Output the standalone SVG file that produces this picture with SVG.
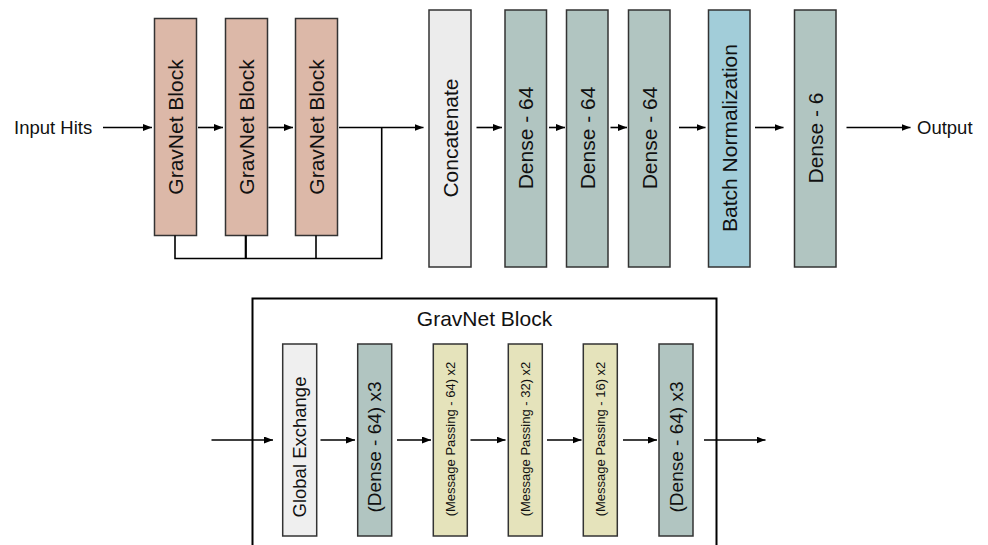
<svg xmlns="http://www.w3.org/2000/svg" width="988" height="545" viewBox="0 0 988 545">
  <style>
    text { font-family: "Liberation Sans", Arial, sans-serif; fill: #111; }
    .box { stroke: #333; stroke-width: 1.5; }
    .grav { fill: #dcb8a8; }
    .dense { fill: #b1c5c1; }
    .concat { fill: #ececec; }
    .bn { fill: #a2cdd9; }
    .mp { fill: #e5e3bb; }
    .ge { fill: #efefef; }
    .t21 { font-size: 21px; }
    .t18 { font-size: 18.5px; }
    .t19 { font-size: 19px; }
    .t13 { font-size: 13px; }
    .conn { stroke: #000; stroke-width: 1.6; fill: none; }
    .frame { stroke: #000; stroke-width: 2; fill: none; }
  </style>
  <defs>
    <marker id="ah" markerUnits="userSpaceOnUse" markerWidth="9" markerHeight="7" refX="9" refY="3.5" orient="auto">
      <path d="M0,0 L9,3.5 L0,7 z" fill="#000"/>
    </marker>
  </defs>

  <rect width="988" height="545" fill="#fff"/>

  <!-- labels -->
  <text id="input-hits" class="t18" x="14" y="133.5">Input Hits</text>
  <text id="output" class="t18" x="917" y="133.5">Output</text>

  <!-- top row nodes -->
  <g id="gravnet1">
    <rect class="box grav" x="154.5" y="18.5" width="42" height="217"/>
    <text class="t21" text-anchor="middle" transform="translate(183,127) rotate(-90)">GravNet Block</text>
  </g>
  <g id="gravnet2">
    <rect class="box grav" x="225.5" y="18.5" width="42" height="217"/>
    <text class="t21" text-anchor="middle" transform="translate(254,127) rotate(-90)">GravNet Block</text>
  </g>
  <g id="gravnet3">
    <rect class="box grav" x="295.5" y="18.5" width="42" height="217"/>
    <text class="t21" text-anchor="middle" transform="translate(324,127) rotate(-90)">GravNet Block</text>
  </g>
  <g id="concatenate">
    <rect class="box concat" x="429" y="10" width="42" height="257"/>
    <text class="t21" text-anchor="middle" transform="translate(457.5,138) rotate(-90)">Concatenate</text>
  </g>
  <g id="dense64a">
    <rect class="box dense" x="505" y="10" width="41.5" height="257"/>
    <text class="t21" text-anchor="middle" transform="translate(533.3,138) rotate(-90)">Dense - 64</text>
  </g>
  <g id="dense64b">
    <rect class="box dense" x="566.5" y="10" width="41.5" height="257"/>
    <text class="t21" text-anchor="middle" transform="translate(594.8,138) rotate(-90)">Dense - 64</text>
  </g>
  <g id="dense64c">
    <rect class="box dense" x="628.5" y="10" width="41.5" height="257"/>
    <text class="t21" text-anchor="middle" transform="translate(656.8,138) rotate(-90)">Dense - 64</text>
  </g>
  <g id="batchnorm">
    <rect class="box bn" x="708.5" y="10" width="41.5" height="257"/>
    <text class="t21" text-anchor="middle" transform="translate(736.8,138) rotate(-90)">Batch Normalization</text>
  </g>
  <g id="dense6">
    <rect class="box dense" x="794.5" y="10" width="41.5" height="257"/>
    <text class="t21" text-anchor="middle" transform="translate(822.8,138) rotate(-90)">Dense - 6</text>
  </g>

  <!-- GravNet block detail -->
  <g id="gravnet-detail">
    <path class="frame" d="M252.5,547 V298.5 H716.5 V547"/>
    <text class="t21" x="484.5" y="326" text-anchor="middle">GravNet Block</text>
  </g>
  <g id="global-exchange">
    <rect class="box ge" x="282.7" y="344" width="34" height="192"/>
    <text class="t18" text-anchor="middle" transform="translate(306.2,447) rotate(-90)">Global Exchange</text>
  </g>
  <g id="dense64x3a">
    <rect class="box dense" x="357.7" y="344" width="34" height="192"/>
    <text class="t19" text-anchor="middle" transform="translate(381.4,447) rotate(-90)">(Dense - 64) x3</text>
  </g>
  <g id="mp64">
    <rect class="box mp" x="433.3" y="344" width="34" height="192"/>
    <text class="t13" text-anchor="middle" transform="translate(454.8,439) rotate(-90)">(Message Passing - 64) x2</text>
  </g>
  <g id="mp32">
    <rect class="box mp" x="508.3" y="344" width="34" height="192"/>
    <text class="t13" text-anchor="middle" transform="translate(529.8,439) rotate(-90)">(Message Passing - 32) x2</text>
  </g>
  <g id="mp16">
    <rect class="box mp" x="583.3" y="344" width="34" height="192"/>
    <text class="t13" text-anchor="middle" transform="translate(604.8,439) rotate(-90)">(Message Passing - 16) x2</text>
  </g>
  <g id="dense64x3b">
    <rect class="box dense" x="659" y="344" width="34" height="192"/>
    <text class="t19" text-anchor="middle" transform="translate(682.7,447) rotate(-90)">(Dense - 64) x3</text>
  </g>

  <!-- connectors -->
  <g id="connectors">
    <line class="conn" x1="103" y1="127.5" x2="152" y2="127.5" marker-end="url(#ah)"/>
    <line class="conn" x1="198" y1="127.5" x2="223" y2="127.5" marker-end="url(#ah)"/>
    <line class="conn" x1="268.5" y1="127.5" x2="293" y2="127.5" marker-end="url(#ah)"/>
    <line class="conn" x1="339" y1="127.5" x2="423.5" y2="127.5" marker-end="url(#ah)"/>
    <path class="conn" d="M175,235.5 V258.5 H381.7 V127.5"/>
    <line class="conn" x1="245.8" y1="235.5" x2="245.8" y2="258.5" style="stroke-width:2.2"/>
    <line class="conn" x1="316" y1="235.5" x2="316" y2="258.5"/>
    <line class="conn" x1="476.5" y1="127.5" x2="502" y2="127.5" marker-end="url(#ah)"/>
    <line class="conn" x1="549" y1="127.5" x2="565" y2="127.5" marker-end="url(#ah)"/>
    <line class="conn" x1="610.5" y1="127.5" x2="627" y2="127.5" marker-end="url(#ah)"/>
    <line class="conn" x1="679" y1="127.5" x2="705.5" y2="127.5" marker-end="url(#ah)"/>
    <line class="conn" x1="755" y1="127.5" x2="783.5" y2="127.5" marker-end="url(#ah)"/>
    <line class="conn" x1="846.5" y1="127.5" x2="910.5" y2="127.5" marker-end="url(#ah)"/>

    <line class="conn" x1="211.5" y1="440" x2="273" y2="440" marker-end="url(#ah)"/>
    <line class="conn" x1="320.5" y1="440" x2="355" y2="440" marker-end="url(#ah)"/>
    <line class="conn" x1="397" y1="440" x2="431" y2="440" marker-end="url(#ah)"/>
    <line class="conn" x1="470.5" y1="440" x2="505.5" y2="440" marker-end="url(#ah)"/>
    <line class="conn" x1="547" y1="440" x2="581.5" y2="440" marker-end="url(#ah)"/>
    <line class="conn" x1="623" y1="440" x2="657" y2="440" marker-end="url(#ah)"/>
    <line class="conn" x1="704" y1="440" x2="765.5" y2="440" marker-end="url(#ah)"/>
  </g>
</svg>
